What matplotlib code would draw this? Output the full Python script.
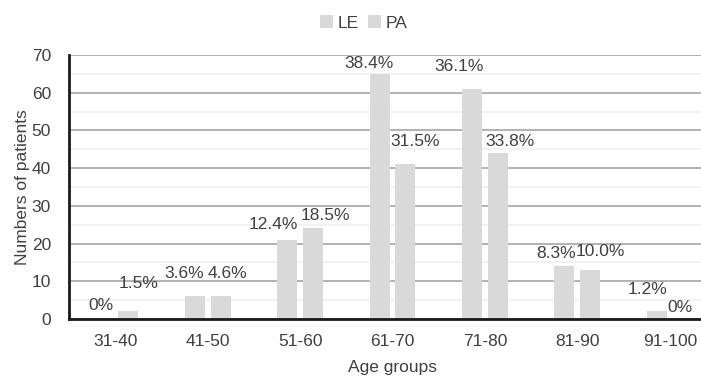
import matplotlib.pyplot as plt
import numpy as np

age_groups = ["31-40", "41-50", "51-60", "61-70", "71-80", "81-90", "91-100"]
le_counts = [0, 6, 21, 65, 61, 14, 2]
pa_counts = [2, 6, 24, 41, 44, 13, 0]
le_pct = ["0%", "3.6%", "12.4%", "38.4%", "36.1%", "8.3%", "1.2%"]
pa_pct = ["1.5%", "4.6%", "18.5%", "31.5%", "33.8%", "10.0%", "0%"]

# label offsets (pixels) from the top centre of each bar
le_offsets = [(-1, 13), (-11, 23), (-14, 15), (-11, 10), (-13, 22), (-8, 13), (-9, 22)]
pa_offsets = [(10, 28), (7, 23), (12, 13), (10, 23), (12, 12), (10, 18), (-3, 12)]

BAR_COLOR = "#d9d9d9"
TEXT_COLOR = "#404040"
FS = 12.5

plt.rcParams["font.family"] = ["Liberation Sans", "DejaVu Sans"]

fig = plt.figure(figsize=(7.01, 3.76), dpi=100)
ax = fig.add_axes([69 / 701, 57 / 376, 647 / 701, 264 / 376])

x = np.arange(len(age_groups))
w = 0.216
off = 0.14
b1 = ax.bar(x - off, le_counts, w, color=BAR_COLOR, label="LE", zorder=3)
b2 = ax.bar(x + off, pa_counts, w, color=BAR_COLOR, label="PA", zorder=3)

for bars, labels, offs in [(b1, le_pct, le_offsets), (b2, pa_pct, pa_offsets)]:
    for rect, lab, (dx, dy) in zip(bars, labels, offs):
        ax.annotate(lab, (rect.get_x() + rect.get_width() / 2, rect.get_height()),
                    xytext=(dx, dy), textcoords="offset pixels",
                    ha="center", va="center", fontsize=FS, color=TEXT_COLOR)

ax.set_xlim(-0.5, 6.5)
ax.set_ylim(0, 70)
ax.set_yticks(range(0, 71, 10))
ax.set_yticks(range(5, 70, 10), minor=True)
ax.yaxis.grid(True, which="major", color="#a6a6a6", linewidth=1.2, zorder=0)
ax.yaxis.grid(True, which="minor", color="#f0f0f0", linewidth=1.2, zorder=0)
ax.set_axisbelow(True)
ax.set_xticks(x)
ax.set_xticklabels(age_groups)
ax.tick_params(axis="both", which="both", length=0, labelsize=FS, colors=TEXT_COLOR)
ax.tick_params(axis="x", pad=11)
ax.tick_params(axis="y", pad=13)

for s in ["top", "right"]:
    ax.spines[s].set_visible(False)
for s in ["left", "bottom"]:
    ax.spines[s].set_linewidth(2)
    ax.spines[s].set_color("#1a1a1a")
    ax.spines[s].set_zorder(4)

ax.set_xlabel("Age groups", fontsize=FS, color=TEXT_COLOR, labelpad=8)
ax.set_ylabel("Numbers of patients", fontsize=FS, color=TEXT_COLOR, labelpad=1)

fig.legend(loc="center", bbox_to_anchor=(364 / 701, 1 - 23 / 376), ncol=2,
           frameon=False, handlelength=0.7, handleheight=0.7, handletextpad=0.3,
           columnspacing=0.55, fontsize=FS, labelcolor=TEXT_COLOR)

fig.savefig("out.png", dpi=100)
